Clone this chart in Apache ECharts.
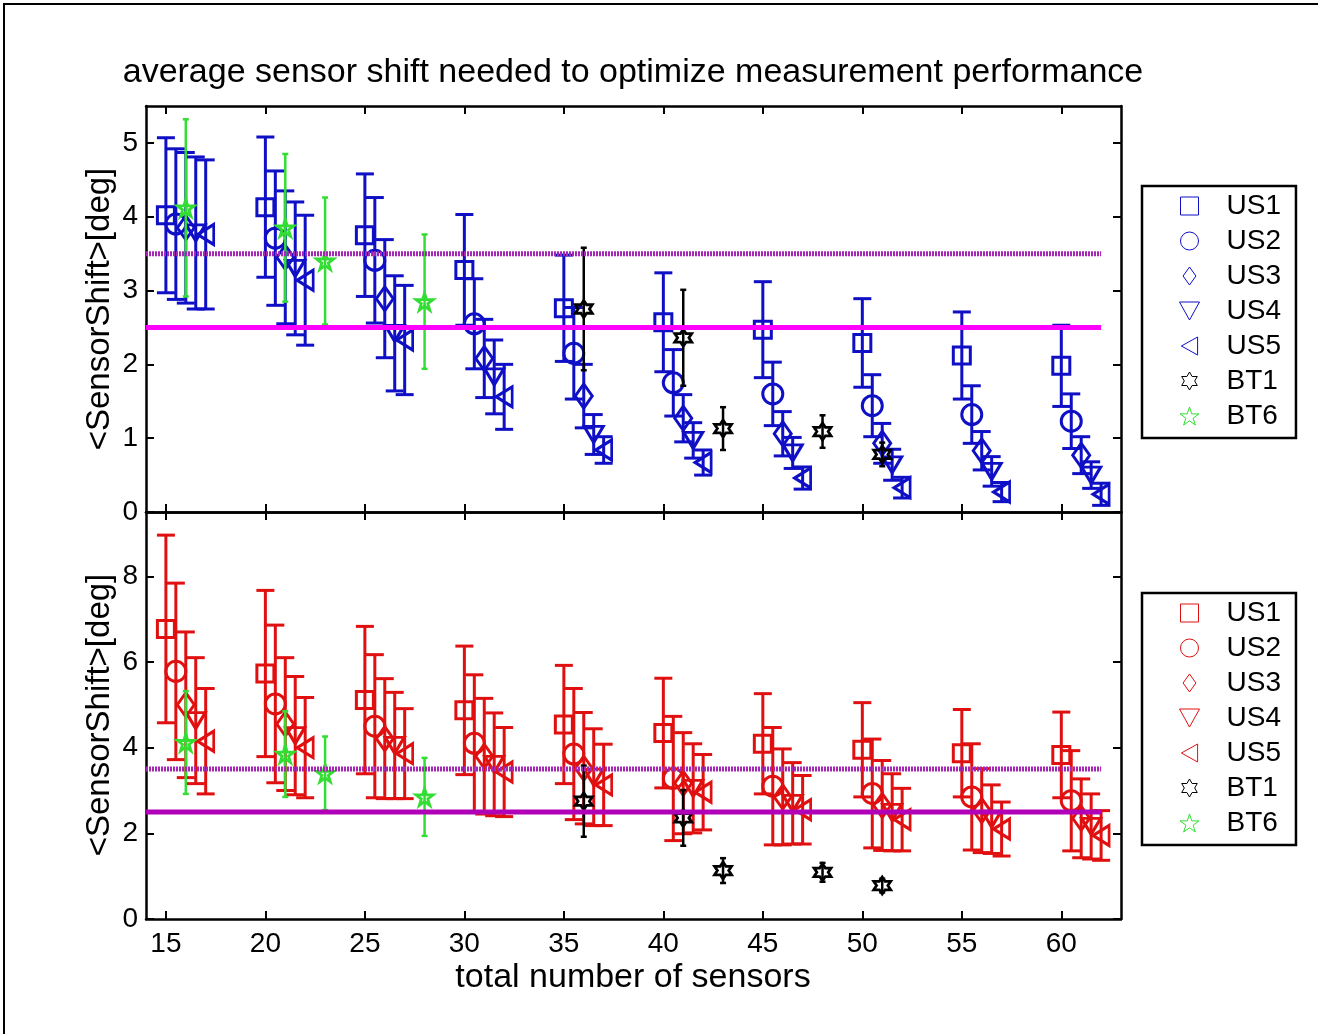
<!DOCTYPE html>
<html>
<head>
<meta charset="utf-8">
<title>average sensor shift</title>
<script src="https://cdn.jsdelivr.net/npm/echarts@6/dist/echarts.min.js"></script>
<style>
  html, body { margin: 0; padding: 0; background: #fff; }
  #chart { width: 1318px; height: 1034px; }
</style>
</head>
<body>
<div id="chart"></div>
<script>
// groups of sensors (x) and the offset of each sensor type inside a group
const sensorGroups = [15, 20, 25, 30, 35, 40, 45, 50, 55, 60]
const usOffsets = [0, 0.5, 1, 1.5, 2]
const usNames = ['US1', 'US2', 'US3', 'US4', 'US5']
const xTicks = [15, 20, 25, 30, 35, 40, 45, 50, 55, 60]
const topYTicks = [0, 1, 2, 3, 4, 5]
const bottomYTicks = [0, 2, 4, 6, 8]

// upper panel (blue)
const topUS1 = [4.02, 4.13, 3.75, 3.28, 2.76, 2.57, 2.47, 2.29, 2.12, 1.98]
const topUS1Err = [1.05, 0.95, 0.83, 0.75, 0.72, 0.67, 0.65, 0.6, 0.59, 0.55]
const topUS2 = [3.9, 3.71, 3.41, 2.55, 2.15, 1.75, 1.6, 1.44, 1.32, 1.23]
const topUS2Err = [1.02, 0.91, 0.85, 0.61, 0.62, 0.45, 0.43, 0.42, 0.39, 0.37]
const topUS3 = [3.85, 3.45, 2.89, 2.08, 1.57, 1.27, 1.06, 0.93, 0.83, 0.77]
const topUS3Err = [1.02, 0.9, 0.8, 0.53, 0.43, 0.32, 0.3, 0.27, 0.26, 0.25]
const topUS4 = [3.78, 3.3, 2.42, 1.83, 1.05, 0.97, 0.8, 0.64, 0.55, 0.5]
const topUS4Err = [1.03, 0.9, 0.78, 0.5, 0.27, 0.24, 0.21, 0.21, 0.2, 0.18]
const topUS5 = [3.76, 3.14, 2.33, 1.56, 0.84, 0.67, 0.46, 0.33, 0.27, 0.24]
const topUS5Err = [1.01, 0.88, 0.74, 0.44, 0.18, 0.17, 0.15, 0.14, 0.13, 0.15]

// lower panel (red)
const botUS1 = [6.77, 5.73, 5.11, 4.87, 4.54, 4.34, 4.09, 3.95, 3.87, 3.83]
const botUS1Err = [2.19, 1.94, 1.72, 1.5, 1.38, 1.28, 1.17, 1.1, 1.02, 1.0]
const botUS2 = [5.78, 5.02, 4.5, 4.1, 3.85, 3.28, 3.1, 2.93, 2.85, 2.76]
const botUS2Err = [2.06, 1.84, 1.67, 1.6, 1.53, 1.45, 1.37, 1.27, 1.24, 1.17]
const botUS3 = [5.0, 4.55, 4.21, 3.8, 3.52, 3.17, 2.85, 2.65, 2.53, 2.35]
const botUS3Err = [1.7, 1.55, 1.4, 1.35, 1.3, 1.18, 1.12, 1.05, 0.98, 0.92]
const botUS4 = [4.63, 4.28, 4.05, 3.61, 3.31, 3.05, 2.7, 2.49, 2.33, 2.16]
const botUS4Err = [1.47, 1.38, 1.24, 1.2, 1.13, 1.04, 0.95, 0.9, 0.8, 0.76]
const botUS5 = [4.15, 4.0, 3.86, 3.43, 3.13, 2.96, 2.55, 2.32, 2.1, 1.95]
const botUS5Err = [1.23, 1.17, 1.05, 1.04, 0.95, 0.88, 0.8, 0.73, 0.63, 0.58]

// BT1 / BT6 (same in both panels)
const bt1X = [36, 41, 43, 48, 51]
const bt1Mean = [2.75, 2.36, 1.13, 1.09, 0.78]
const bt1Err = [0.83, 0.65, 0.29, 0.22, 0.16]
const bt6X = [16, 21, 23, 28]
const bt6Mean = [4.12, 3.85, 3.4, 2.85]
const bt6Err = [1.2, 1.0, 0.86, 0.91]

// reference levels
const levelX = [14, 62]
const levelDotted = 3.5
const levelSolid = 2.5

const FONT = 'Liberation Sans, Arial, sans-serif'
const BLUE = '#0f0fc6'
const RED = '#e01010'
const GREEN = '#33dd33'

const square = 'path://M0,0L10,0L10,10L0,10Z'
const diamond = 'path://M5,0L10,7L5,14L0,7Z'
const triDown = 'path://M0,0L10,0L5,9Z'
const triLeft = 'path://M9,0L9,10L0,5Z'
const hexStar = 'path://M10,0L12.89,5L18.66,5L15.77,10L18.66,15L12.89,15L10,20L7.11,15L1.34,15L4.23,10L1.34,5L7.11,5Z'
const fiveStar = 'path://M10,0L12.25,6.91L19.51,6.91L13.63,11.18L15.88,18.09L10,13.82L4.12,18.09L6.37,11.18L0.49,6.91L7.75,6.91Z'
const usSymbols = [square, 'circle', diamond, triDown, triLeft]
const usSizes = [[17, 17], [20, 20], [17, 24], [19, 16], [16, 20]]

const errorBar = (capHalf, lineW, color) => (params, api) => {
    const x = api.value(0)
    const hi = api.coord([x, api.value(2)])
    const lo = api.coord([x, api.value(1)])
    const st = { stroke: color, lineWidth: lineW }
    return {
        type: 'group',
        children: [
            { type: 'line', shape: { x1: hi[0], y1: hi[1], x2: lo[0], y2: lo[1] }, style: st },
            { type: 'line', shape: { x1: hi[0] - capHalf, y1: hi[1], x2: hi[0] + capHalf, y2: hi[1] }, style: st },
            { type: 'line', shape: { x1: lo[0] - capHalf, y1: lo[1], x2: lo[0] + capHalf, y2: lo[1] }, style: st },
        ],
    }
}

const panelSeries = (idx, prefix, means, errs, color, solidColor) => {
    const out = []
    const axes = { xAxisIndex: idx * 2, yAxisIndex: idx * 2 }
    means.forEach((m, i) => {
        const xs = sensorGroups.map((g) => g + usOffsets[i])
        out.push({
            type: 'custom', ...axes, silent: true, z: 2,
            renderItem: errorBar(9, 3, color),
            encode: { x: 0, y: [1, 2] },
            data: xs.map((x, j) => [x, m[j] - errs[i][j], m[j] + errs[i][j]]),
        })
        out.push({
            type: 'scatter', name: prefix + usNames[i], ...axes, z: 3,
            symbol: usSymbols[i], symbolSize: usSizes[i], symbolKeepAspect: false,
            itemStyle: { color: 'rgba(0,0,0,0)', borderColor: color, borderWidth: 3, opacity: 1 },
            data: xs.map((x, j) => [x, m[j]]),
        })
    })
    const bt = [
        ['BT1', bt1X, bt1Mean, bt1Err, '#000', hexStar],
        ['BT6', bt6X, bt6Mean, bt6Err, GREEN, fiveStar],
    ]
    bt.forEach(([name, xs, mean, err, c, sym]) => {
        out.push({
            type: 'custom', ...axes, silent: true, z: 4,
            renderItem: errorBar(3, 2.5, c),
            encode: { x: 0, y: [1, 2] },
            data: xs.map((x, j) => [x, mean[j] - err[j], mean[j] + err[j]]),
        })
        out.push({
            type: 'scatter', name: prefix + name, ...axes, z: 5,
            symbol: sym, symbolSize: 17,
            itemStyle: { color: 'rgba(0,0,0,0)', borderColor: c, borderWidth: 2.8, opacity: 1 },
            data: xs.map((x, j) => [x, mean[j]]),
        })
    })
    out.push({
        type: 'line', ...axes, silent: true, z: 6, symbol: 'none',
        lineStyle: { color: '#a428b4', width: 5, type: [2, 1] },
        data: levelX.map((x) => [x, levelDotted]),
    })
    out.push({
        type: 'line', ...axes, silent: true, z: 6, symbol: 'none',
        lineStyle: { color: solidColor, width: 5 },
        data: levelX.map((x) => [x, levelSolid]),
    })
    return out
}

const axisLine = { onZero: false, lineStyle: { color: '#000', width: 2.5 } }
const tickStyle = (vals) => ({ inside: true, length: 8, lineStyle: { color: '#000', width: 2 }, customValues: vals })
const labelStyle = (show, vals, margin) => ({
    show, customValues: vals, color: '#000', fontFamily: FONT, fontSize: 28, margin,
})

const xAx = (grid, pos, showLabel) => ({
    type: 'value', gridIndex: grid, position: pos, min: 14, max: 63,
    axisLine, axisTick: tickStyle(xTicks), axisLabel: labelStyle(showLabel, xTicks, 11),
    splitLine: { show: false },
})
const yAx = (grid, pos, showLabel, max, ticks) => ({
    type: 'value', gridIndex: grid, position: pos, min: 0, max,
    axisLine, axisTick: tickStyle(ticks), axisLabel: labelStyle(showLabel, ticks, 8),
    splitLine: { show: false },
})

const legendBox = (top, prefix) => ({
    orient: 'vertical', left: 1142, top,
    padding: [6, 15, 8, 37], itemGap: 7, itemWidth: 64, itemHeight: 18,
    borderColor: '#000', borderWidth: 2.5, selectedMode: false,
    itemStyle: { borderWidth: 1 },
    textStyle: { color: '#000', fontFamily: FONT, fontSize: 28 },
    formatter: (n) => n.replace(prefix, ''),
    data: usNames.concat(['BT1', 'BT6']).map((n) => prefix + n),
})

const chart = echarts.init(document.getElementById('chart'))
chart.setOption({
    backgroundColor: '#fff',
    animation: false,
    grid: [
        { left: 146, top: 106, width: 975, height: 406 },
        { left: 146, top: 512, width: 975, height: 407 },
    ],
    xAxis: [xAx(0, 'bottom', false), xAx(0, 'top', false), xAx(1, 'bottom', true), xAx(1, 'top', false)],
    yAxis: [
        yAx(0, 'left', true, 5.5, topYTicks), yAx(0, 'right', false, 5.5, topYTicks),
        yAx(1, 'left', true, 9.5, bottomYTicks), yAx(1, 'right', false, 9.5, bottomYTicks),
    ],
    legend: [legendBox(186, ''), legendBox(593, 'b:')],
    series: [
        ...panelSeries(0, '', [topUS1, topUS2, topUS3, topUS4, topUS5],
            [topUS1Err, topUS2Err, topUS3Err, topUS4Err, topUS5Err], BLUE, '#ff00ff'),
        ...panelSeries(1, 'b:', [botUS1, botUS2, botUS3, botUS4, botUS5],
            [botUS1Err, botUS2Err, botUS3Err, botUS4Err, botUS5Err], RED, '#b000b8'),
    ],
    graphic: [
        {
            type: 'polyline', silent: true,
            shape: { points: [[4, 1034], [4, 4], [1318, 4]] },
            style: { stroke: '#000', lineWidth: 2, fill: null },
        },
        {
            type: 'text', x: 633, y: 73, silent: true,
            style: {
                text: 'average sensor shift needed to optimize measurement performance',
                fontFamily: FONT, fontSize: 34, fill: '#000', align: 'center', verticalAlign: 'middle',
            },
        },
        {
            type: 'text', x: 100, y: 309, rotation: Math.PI / 2, silent: true,
            style: {
                text: '<SensorShift>[deg]', fontFamily: FONT, fontSize: 33, fill: '#000',
                align: 'center', verticalAlign: 'middle',
            },
        },
        {
            type: 'text', x: 100, y: 715, rotation: Math.PI / 2, silent: true,
            style: {
                text: '<SensorShift>[deg]', fontFamily: FONT, fontSize: 33, fill: '#000',
                align: 'center', verticalAlign: 'middle',
            },
        },
        {
            type: 'text', x: 633, y: 978, silent: true,
            style: {
                text: 'total number of sensors', fontFamily: FONT, fontSize: 34, fill: '#000',
                align: 'center', verticalAlign: 'middle',
            },
        },
    ],
})
</script>
</body>
</html>
